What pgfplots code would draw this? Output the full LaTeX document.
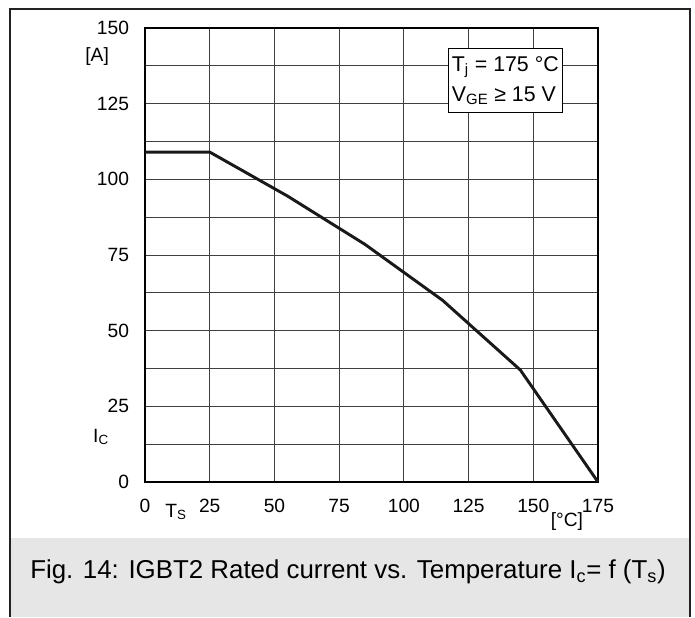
\documentclass[border=0pt]{standalone}
\usepackage{fontspec}
\setmainfont{Liberation Sans}
\usepackage{pgfplots}
\pgfplotsset{compat=1.18}
\definecolor{capgray}{HTML}{E6E6E6}
\definecolor{framegray}{HTML}{222222}
\begin{document}
\begin{tikzpicture}[x=0.75pt,y=0.75pt]
\fill[capgray] (10,0) rectangle (690,79);
\draw[framegray, line width=1pt] (10,0) -- (10,608) -- (690,608) -- (690,0);
\begin{axis}[
  at={(108.75pt,101.25pt)}, anchor=south west,
  scale only axis, width=339.75pt, height=340.5pt,
  xmin=0, xmax=175, ymin=0, ymax=150,
  xtick={0,25,...,175}, ytick={0,25,...,150},
  minor ytick={12.5,37.5,...,137.5},
  grid=both,
  major grid style={black!75, line width=0.65pt},
  minor grid style={black!75, line width=0.65pt},
  major tick length=0pt, minor tick length=0pt,
  axis line style={black, line width=1.1pt},
  /pgf/number format/assume math mode=true,
  ticklabel style={font=\fontsize{14.4}{16}\selectfont},
  xticklabel style={anchor=base, yshift=-22.5pt},
  yticklabel style={xshift=-8.5pt},
  clip=false,
]
\addplot[black!90, line width=2.2pt, line join=round] coordinates {
  (0,109) (25,109) (55,94.5) (85,78.5) (115,60) (145,37) (175,0)
};
\node[font=\fontsize{14.4}{16}\selectfont] at (axis cs:-18.5,140.7) {[A]};
\node[font=\fontsize{14.4}{16}\selectfont] at (axis cs:-17,14.9) {I\textsubscript{C}};
\node[font=\fontsize{14.4}{16}\selectfont] at (axis cs:12,-9.9) {T\textsubscript{S}};
\node[font=\fontsize{14.4}{16}\selectfont] at (axis cs:163,-12.9) {[°C]};
\node[draw=black, line width=0.8pt, fill=white, align=left, inner xsep=2.5pt, inner ysep=6pt,
      font=\fontsize{16}{19.5}\selectfont] at (axis cs:139.2,132.6)
  {T\textsubscript{j} = 175 °C\\[3pt]V\textsubscript{GE} ≥ 15 V};
\end{axis}
\node[font=\fontsize{19.4}{22}\selectfont] at (348,45)
  {Fig. 14: IGBT2 Rated current vs. Temperature I\textsubscript{c}= f (T\textsubscript{s})};
\pgfresetboundingbox
\useasboundingbox (0,0) rectangle (695,617);
\end{tikzpicture}
\end{document}
